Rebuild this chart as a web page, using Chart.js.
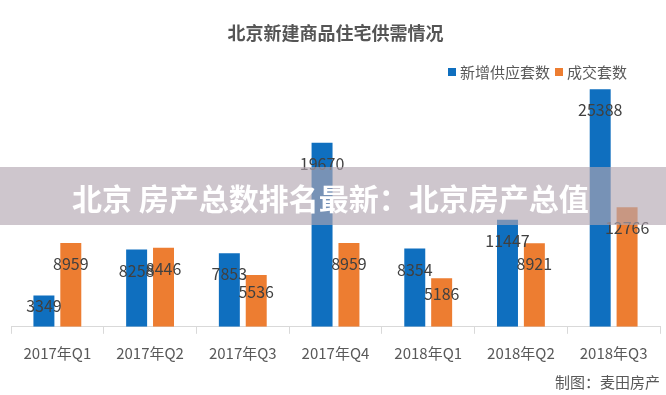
<!DOCTYPE html>
<html>
<head>
<meta charset="utf-8">
<script src="https://cdn.jsdelivr.net/npm/chart.js@4.4.1/dist/chart.umd.min.js"></script>
<style>
  body { margin: 0; background: #fff; }
  #wrap { position: relative; width: 666px; height: 395px; }
  #banner {
    position: absolute; left: 0; top: 167px; width: 666px; height: 58px;
    background: rgba(179,166,176,0.64);
    color: #fff; font: bold 30px "Noto Sans CJK SC", sans-serif;
    line-height: 60px; padding-left: 72px; box-sizing: border-box; white-space: pre;
  }
</style>
</head>
<body>
<div id="wrap">
  <canvas id="myChart" width="666" height="395"></canvas>
  <div id="banner">北京 房产总数排名最新：北京房产总值</div>
</div>
<script>
var quarters = ["2017年Q1", "2017年Q2", "2017年Q3", "2017年Q4", "2018年Q1", "2018年Q2", "2018年Q3"];
var supply = [3349, 8258, 7853, 19670, 8354, 11447, 25388];
var sold = [8959, 8446, 5536, 8959, 5186, 8921, 12766];

var fontFamily = "'Noto Sans CJK SC', sans-serif";

// value labels just under the top of each bar
var barLabels = {
    id: 'barLabels',
    afterDatasetsDraw: function(chart){
        var ctx = chart.ctx;
        ctx.save();
        ctx.font = "16px " + fontFamily;
        ctx.fillStyle = "#404040";
        ctx.textAlign = "center";
        ctx.textBaseline = "middle";
        chart.data.datasets.forEach(function(ds, i){
            chart.getDatasetMeta(i).data.forEach(function(bar, j){
                var h = bar.base - bar.y;
                ctx.fillText(ds.data[j], bar.x, bar.y + Math.min(21, h * 0.33));
            });
        });
        ctx.restore();
    }
};

// legend at the top right
var topLegend = {
    id: 'topLegend',
    afterDraw: function(chart){
        var ctx = chart.ctx;
        ctx.save();
        ctx.font = "15px " + fontFamily;
        ctx.textBaseline = "middle";
        var items = chart.data.datasets;
        var total = 0;
        items.forEach(function(ds){ total += 12 + ctx.measureText(ds.label).width + 5; });
        var x = 632 - total;
        var y = 72;
        items.forEach(function(ds){
            ctx.fillStyle = ds.backgroundColor;
            ctx.fillRect(x, y - 4, 8, 8);
            ctx.fillStyle = "#595959";
            ctx.fillText(ds.label, x + 12, y);
            x += 12 + ctx.measureText(ds.label).width + 5;
        });
        ctx.restore();
    }
};

var ctx = document.getElementById("myChart");
var myChart = new Chart(ctx, {
    type: 'bar',
    data: {
        labels: quarters,
        datasets: [
        {
            label: '新增供应套数',
            backgroundColor: '#0F6FBF',
            data: supply,
            barPercentage: 0.78,
            categoryPercentage: 0.58
        },
        {
            label: '成交套数',
            backgroundColor: '#ED7D31',
            data: sold,
            barPercentage: 0.78,
            categoryPercentage: 0.58
        }
        ]
    },
    options: {
        responsive: false,
        animation: false,
        devicePixelRatio: 1,
        layout: { padding: { left: 11, right: 6, top: 0, bottom: 0 } },
        plugins: {
            legend: { display: false },
            tooltip: { enabled: false },
            title: {
                display: true,
                text: '北京新建商品住宅供需情况',
                color: '#555555',
                font: { family: fontFamily, size: 18, weight: 'bold' },
                padding: { top: 22, bottom: 39.8 }
            },
            subtitle: {
                display: true,
                position: 'bottom',
                align: 'end',
                text: '制图：麦田房产',
                color: '#595959',
                font: { family: fontFamily, size: 15 },
                padding: { top: 1.6, bottom: 3.6 }
            }
        },
        scales: {
            x: {
                grid: { display: true, drawOnChartArea: false, tickLength: 7, offset: true, color: '#d9d9d9' },
                border: { color: '#d9d9d9' },
                ticks: { color: '#595959', font: { family: fontFamily, size: 15 }, padding: 10, maxRotation: 0 }
            },
            y: {
                display: false,
                min: 0,
                max: 26000
            }
        }
    },
    plugins: [barLabels, topLegend]
});
</script>
</body>
</html>
